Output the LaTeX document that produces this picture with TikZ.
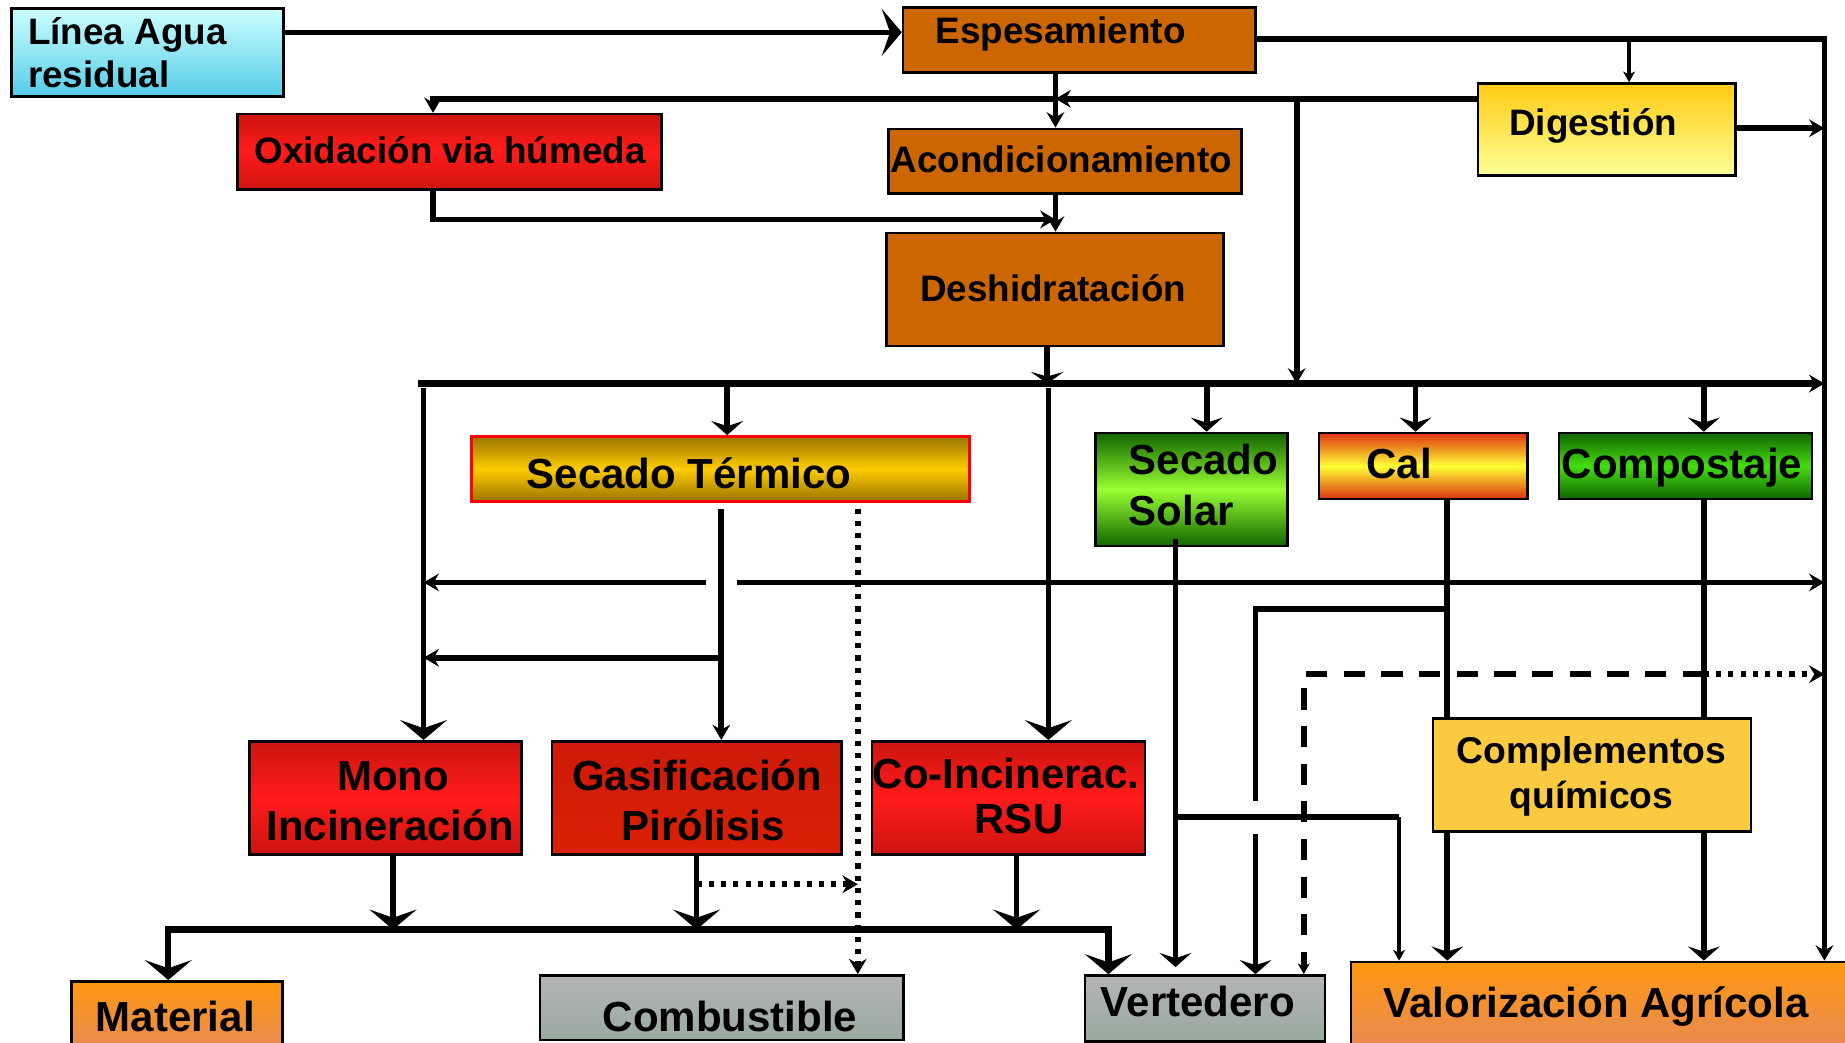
\documentclass[tikz,border=0pt]{standalone}
\usepackage{fontspec}
\setmainfont{Liberation Sans}
\usetikzlibrary{arrows.meta,fit}

\definecolor{linTop}{HTML}{CCFFFF}
\definecolor{linBot}{HTML}{55CCE8}
\definecolor{rust}{HTML}{CC6600}
\definecolor{redEdge}{HTML}{CC1510}
\definecolor{redMid}{HTML}{FF1B1B}
\definecolor{gasTop}{HTML}{CF1A0A}
\definecolor{gasBot}{HTML}{DA2005}
\definecolor{digTop}{HTML}{FFCC11}
\definecolor{digBot}{HTML}{FFFF99}
\definecolor{stEdge}{HTML}{9A7400}
\definecolor{stMid}{HTML}{FFCC00}
\definecolor{solEdge}{HTML}{116600}
\definecolor{solMid}{HTML}{99FF33}
\definecolor{calEdge}{HTML}{DD3311}
\definecolor{calMid}{HTML}{FFFF33}
\definecolor{compEdge}{HTML}{116600}
\definecolor{compMid}{HTML}{44DD11}
\definecolor{complFill}{HTML}{FCCA40}
\definecolor{orTop}{HTML}{FF9911}
\definecolor{orBot}{HTML}{E5875C}
\definecolor{grTop}{HTML}{B4B4B4}
\definecolor{grBot}{HTML}{98AAA0}

\tikzset{
  tipA/.tip={Stealth[length=6.5pt,width=7.5pt,inset=2.2pt]},
  tipW/.tip={Stealth[length=8.5pt,width=20pt,inset=3.5pt]},
  tipM/.tip={Stealth[length=6pt,width=13.5pt,inset=2.2pt]},
  tipF/.tip={Stealth[length=5pt,width=14pt,inset=2pt]},
  tipS/.tip={Stealth[length=4.5pt,width=5pt,inset=1.2pt]},
  boxN/.style={draw=black, line width=1.1pt, inner sep=0pt},
  ln/.style={draw=black, line width=2.4pt},
  thinln/.style={draw=black, line width=1.5pt},
  busln/.style={draw=black, line width=2.7pt},
  dashln/.style={draw=black, line width=2.4pt, dash pattern=on 9pt off 7pt},
  dotln/.style={draw=black, line width=2.4pt, dash pattern=on 2.2pt off 3pt},
  tA/.style={font=\bfseries\fontsize{15.65pt}{18pt}\selectfont, inner sep=0pt, anchor=base},
  tB/.style={font=\bfseries\fontsize{17.85pt}{21pt}\selectfont, inner sep=0pt, anchor=base},
}

\begin{document}
\begin{tikzpicture}[x=0.5pt,y=-0.5pt]
\useasboundingbox (0,0) rectangle (1568,886);
\clip (0,0) rectangle (1568,886);
\fill[white] (0,0) rectangle (1568,886);

% horizontal and vertical tracks of the connectors
\path (0,27.5) coordinate (yIn)
      (0,33) coordinate (yTop)
      (0,84) coordinate (yDig)
      (0,109) coordinate (yDigR)
      (0,186.5) coordinate (yOx)
      (0,326) coordinate (yBus)
      (0,495) coordinate (yMid)
      (0,517.5) coordinate (yCal)
      (0,559) coordinate (ySt)
      (0,573) coordinate (yDash)
      (0,681) coordinate (yBrk1)
      (0,694.5) coordinate (ySol)
      (0,709) coordinate (yBrk2)
      (0,751.5) coordinate (yDot)
      (0,790) coordinate (yBus2)
      (897,0) coordinate (xE)
      (890,0) coordinate (xD)
      (368,0) coordinate (xOx)
      (1384.5,0) coordinate (xDig)
      (1550.5,0) coordinate (xR)
      (1102,0) coordinate (xDv)
      (355,0) coordinate (xBusL)
      (360,0) coordinate (xMono)
      (618,0) coordinate (xST)
      (613,0) coordinate (xST2)
      (600,0) coordinate (xGapL)
      (626,0) coordinate (xGapR)
      (729,0) coordinate (xDotV)
      (891,0) coordinate (xCo)
      (1025.5,0) coordinate (xSol)
      (1203,0) coordinate (xCal)
      (1448,0) coordinate (xComp)
      (999,0) coordinate (xSolOut)
      (1230,0) coordinate (xCalOut)
      (1067,0) coordinate (xCalBr)
      (1189,0) coordinate (xSolBr)
      (1108,0) coordinate (xDashV)
      (334,0) coordinate (xMonoOut)
      (592,0) coordinate (xGasOut)
      (864,0) coordinate (xCoOut)
      (143,0) coordinate (xMat)
      (942,0) coordinate (xVert);

% ---------- boxes ----------
\node[boxN, fit={(10,7) (241,82)}, top color=linTop, bottom color=linBot] (linea) {};
\node[boxN, fit={(767.5,6.5) (1067,61.5)}, fill=rust] (espes) {};
\node[boxN, fit={(202,97) (562,161)}, top color=redEdge, bottom color=redEdge, middle color=redMid] (oxid) {};
\node[boxN, fit={(755,109.5) (1055,164.5)}, fill=rust] (acond) {};
\node[boxN, fit={(753.5,198) (1040,294)}, fill=rust] (deshid) {};
\node[boxN, fit={(1256,71) (1475,149)}, top color=digTop, bottom color=digBot] (dig) {};
\node[boxN, draw=red, line width=1.2pt, fit={(401,371) (824,426)}, top color=stEdge, bottom color=stEdge, middle color=stMid] (secT) {};
\node[boxN, fit={(931,368) (1094,464)}, top color=solEdge, bottom color=solEdge, middle color=solMid] (secS) {};
\node[boxN, fit={(1121,368) (1298,424)}, top color=calEdge, bottom color=calEdge, middle color=calMid] (cal) {};
\node[boxN, fit={(1325,368) (1540,424)}, top color=compEdge, bottom color=compEdge, middle color=compMid] (comp) {};
\node[boxN, fit={(212,630) (443,726)}, top color=redEdge, bottom color=redEdge, middle color=redMid] (mono) {};
\node[boxN, fit={(469,630) (715,726)}, top color=gasTop, bottom color=gasBot] (gas) {};
\node[boxN, fit={(741,630) (973,726)}, top color=redEdge, bottom color=redEdge, middle color=redMid] (coinc) {};
\node[boxN, fit={(1218,610.5) (1488,706.5)}, fill=complFill] (compl) {};
\node[boxN, fit={(61,834) (240,900)}, top color=orTop, bottom color=orBot] (mat) {};
\node[boxN, fit={(459,829) (768,884)}, top color=grTop, bottom color=grBot] (comb) {};
\node[boxN, fit={(922,829) (1126,885)}, top color=grTop, bottom color=grBot] (vert) {};
\node[boxN, fit={(1148,817.5) (1580,900)}, top color=orTop, bottom color=orBot] (valor) {};

% ---------- connectors ----------
% inlet and thickening line
\draw[ln, -tipW] (linea.east |- yIn) -- (espes.west |- yIn);
\draw[ln, -tipA] (espes.east |- yTop) -- (xR |- yTop) -- (valor.north -| xR);
\draw[thinln, -tipS] (xDig |- yTop) -- (dig.north -| xDig);
\draw[ln, -tipA] (dig.east |- yDigR) -- (xR |- yDigR);

% digestion return line
\draw[ln, -tipA] (dig.west |- yDig) -- (xE |- yDig);
\draw[ln, -tipA] (xE |- yDig) -- (xOx |- yDig) -- (oxid.north -| xOx);
\draw[ln, -tipA] (xDv |- yDig) -- (xDv |- yBus);

% main sludge chain
\draw[ln, -tipA] (espes.south -| xE) -- (acond.north -| xE);
\draw[ln, -tipA] (acond.south -| xE) -- (deshid.north -| xE);
\draw[ln, -tipA] (oxid.south -| xOx) -- (xOx |- yOx) -- (xE |- yOx);
\draw[ln, -tipF] (deshid.south -| xD) -- (xD |- yBus);

% distribution bus and its drops
\draw[busln, -tipA] (xBusL |- yBus) -- (xR |- yBus);
\draw[ln, -tipW, shorten <=2pt] (xMono |- yBus) -- (mono.north -| xMono);
\draw[ln, -tipM] (xST |- yBus) -- (secT.north -| xST);
\draw[ln, -tipW, shorten <=2pt] (xCo |- yBus) -- (coinc.north -| xCo);
\draw[ln, -tipM] (xSol |- yBus) -- (secS.north -| xSol);
\draw[ln, -tipM] (xCal |- yBus) -- (cal.north -| xCal);
\draw[ln, -tipM] (xComp |- yBus) -- (comp.north -| xComp);

% thermal drying outputs
\draw[ln, -tipA, shorten <=2.5pt] (secT.south -| xST2) -- (gas.north -| xST2);
\draw[ln, -tipA] (xST2 |- ySt) -- (xMono |- ySt);
\draw[ln, -tipA] (xGapL |- yMid) -- (xMono |- yMid);
\draw[ln, -tipA] (xGapR |- yMid) -- (xR |- yMid);
\draw[dotln, -tipA, shorten <=2.5pt] (secT.south -| xDotV) -- (comb.north -| xDotV);
\draw[dotln, -tipA] (xGasOut |- yDot) -- (xDotV |- yDot);

% incineration outputs
\draw[ln, -tipW] (mono.south -| xMonoOut) -- (xMonoOut |- yBus2);
\draw[ln, -tipW] (gas.south -| xGasOut) -- (xGasOut |- yBus2);
\draw[ln, -tipW] (coinc.south -| xCoOut) -- (xCoOut |- yBus2);
\draw[busln, tipW-tipW] (mat.north -| xMat) -- (xMat |- yBus2) -- (xVert |- yBus2) -- (vert.north -| xVert);

% solar drying
\draw[ln, -tipM, shorten <=-3.5pt, shorten >=3pt] (secS.south -| xSolOut) -- (vert.north -| xSolOut);
\draw[ln] (xSolOut |- ySol) -- (xSolBr |- ySol);
\draw[thinln, -tipS] (xSolBr |- ySol) -- (valor.north -| xSolBr);

% lime
\draw[ln] (cal.south -| xCalOut) -- (compl.north -| xCalOut);
\draw[ln, -tipM] (compl.south -| xCalOut) -- (valor.north -| xCalOut);
\draw[ln] (xCalOut |- yCal) -- (xCalBr |- yCal) -- (xCalBr |- yBrk1);
\draw[ln, -tipM] (xCalBr |- yBrk2) -- (vert.north -| xCalBr);

% composting
\draw[ln] (comp.south -| xComp) -- (compl.north -| xComp);
\draw[ln, -tipM] (compl.south -| xComp) -- (valor.north -| xComp);

% dashed / dotted route
\draw[dashln, -tipS] (xComp |- yDash) -- (xDashV |- yDash) -- (vert.north -| xDashV);
\draw[dotln, -tipA] (xComp |- yDash) -- (xR |- yDash);

% ---------- labels ----------
\node[tA, anchor=base west] (t1) at (23.5,38) {Línea Agua};
\node[tA, anchor=base west] (t2) at (23.5,74) {residual};
\node[tA] (t3) at (901.5,37) {Espesamiento};
\node[tA] (t4) at (382.5,139) {Oxidación via húmeda};
\node[tA] (t5) at (902,147) {Acondicionamiento};
\node[tA] (t6) at (895,256) {Deshidratación};
\node[tA] (t7) at (1354,115) {Digestión};
\node[tB] (t8) at (585.5,415) {Secado Térmico};
\node[tB, anchor=base west] (t9) at (959,403) {Secado};
\node[tB, anchor=base west] (t10) at (959,447) {Solar};
\node[tB] (t11) at (1189,407) {Cal};
\node[tB] (t12) at (1429.5,407) {Compostaje};
\node[tA, font=\bfseries\fontsize{15.85pt}{18pt}\selectfont] (t13) at (1352.5,649) {Complementos};
\node[tA, font=\bfseries\fontsize{15.85pt}{18pt}\selectfont] (t14) at (1352.5,687) {químicos};
\node[tB] (t15) at (334,671.5) {Mono};
\node[tB] (t16) at (331.5,714) {Incineración};
\node[tB] (t17) at (592.5,671.5) {Gasificación};
\node[tB] (t18) at (597.5,714) {Pirólisis};
\node[tB] (t19) at (855,670) {Co-Incinerac.};
\node[tB] (t20) at (866,708) {RSU};
\node[tB] (t21) at (149,877) {Material};
\node[tB] (t22) at (620.5,877) {Combustible};
\node[tB] (t23) at (1018,864) {Vertedero};
\node[tB] (t24) at (1356.5,865) {Valorización Agrícola};
\end{tikzpicture}
\end{document}
